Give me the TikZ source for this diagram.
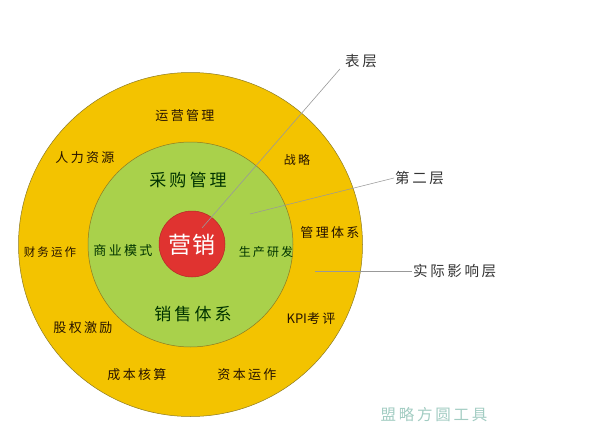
\documentclass[tikz,border=0pt]{standalone}
\usepackage{fontspec}
\setmainfont{Noto Sans CJK SC}[LetterSpace=18]
\usepackage{tikz}
\definecolor{ringyellow}{HTML}{F3C300}
\definecolor{ringgreen}{HTML}{A9D14B}
\definecolor{corered}{HTML}{E03330}
\definecolor{rimline}{HTML}{8C7A22}
\definecolor{wmark}{HTML}{A2CCC2}

\begin{document}
\begin{tikzpicture}[x=1pt, y=-1pt,
        ring_node/.style={circle, draw=rimline, line width=0.5pt, inner sep=0pt},
        outer_label/.style={text=black!85!orange, font=\fontsize{13}{15}\selectfont, inner sep=1pt},
        inner_label/.style={text=black!80!green, font=\fontsize{13}{15}\selectfont, inner sep=1pt},
        big_label/.style={text=black!80!green, font=\fontsize{17}{19}\selectfont, inner sep=1pt},
        side_label/.style={text=black!80, font=\fontsize{14.5}{17}\selectfont, inner sep=1pt},
        leader/.style={draw=gray!80, line width=0.6pt}
        ]
            \useasboundingbox (0,0) rectangle (590,431);
            % Areas
            \node[ring_node, fill=ringyellow, minimum size=344pt] (outer) at (190.5,244.5) {};
            \node[ring_node, fill=ringgreen,  minimum size=205pt] (middle) at (190.5,244.5) {};
            \node[ring_node, fill=corered, draw=corered!80!black, minimum size=66pt] (core) at (192,244) {};

            % core
            \node[text=white, font=\fontsize{23}{25}\selectfont\addfontfeature{LetterSpace=4}] (core_text) at (192,245) {营销};
            % second layer
            \node[big_label]   (buy)       at (188,180) {采购管理};
            \node[big_label]   (sales)     at (193,314) {销售体系};
            \node[inner_label] (business)  at (123,251) {商业模式};
            \node[inner_label, font=\fontsize{12}{14}\selectfont] (production) at (266,252) {生产研发};
            % outer layer
            \node[outer_label] (operation) at (185,116) {运营管理};
            \node[outer_label] (hr)        at (85,158)  {人力资源};
            \node[outer_label, font=\fontsize{12}{14}\selectfont] (strategy) at (297,160) {战略};
            \node[outer_label] (management) at (330,233) {管理体系};
            \node[outer_label, font=\fontsize{11.5}{14}\selectfont] (finance) at (50,252) {财务运作};
            \node[outer_label] (equity)    at (83,328)  {股权激励};
            \node[outer_label] (kpi)       at (311,319) {{\addfontfeature{LetterSpace=0}KPI}考评};
            \node[outer_label] (cost)      at (137,375) {成本核算};
            \node[outer_label] (capital)   at (247,375) {资本运作};

            % layer names
            \node[side_label, anchor=west] (surface) at (344,61)  {表层};
            \node[side_label, anchor=west] (second)  at (394,178) {第二层};
            \node[side_label, anchor=west] (actual)  at (412,271) {实际影响层};
            \coordinate (surface_end) at (202,228);
            \coordinate (second_end)  at (250,214);
            \coordinate (actual_end)  at (315,271);

            % Lines
            \draw[leader] (surface.south west) ++(-4,0) coordinate (surface_start) -- (surface_end);
            \draw[leader] (second.west) -- (second_end);
            \draw[leader] (actual.west) -- (actual_end);

            % text
            \node[text=wmark, font=\fontsize{15.5}{18}\selectfont] (brand) at (434,415) {盟略方圆工具};
        \end{tikzpicture}
\end{document}
